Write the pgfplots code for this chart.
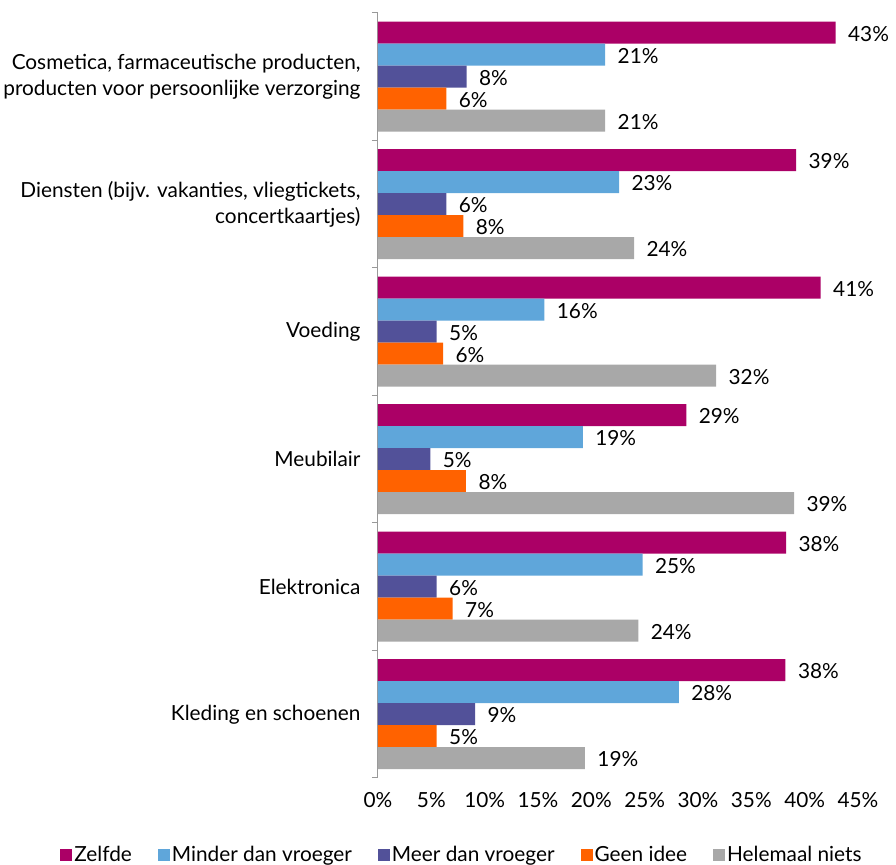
\documentclass[border=0pt]{standalone}
\usepackage{pgfplots}
\pgfplotsset{compat=1.18}
\usepackage{fontspec}
\setmainfont{Lato}
\definecolor{cZ}{HTML}{AB0066}
\definecolor{cM}{HTML}{5FA6DA}
\definecolor{cV}{HTML}{525199}
\definecolor{cG}{HTML}{FF6200}
\definecolor{cH}{HTML}{A8A8A8}
\pgfplotstableread{
x y lab
42.9 5 43\%
39.2 4 39\%
41.5 3 41\%
28.9 2 29\%
38.25 1 38\%
38.2 0 38\%
}\zelfde
\pgfplotstableread{
x y lab
21.3 5 21\%
22.6 4 23\%
15.6 3 16\%
19.2 2 19\%
24.8 1 25\%
28.2 0 28\%
}\minder
\pgfplotstableread{
x y lab
8.3 5 8\%
6.4 4 6\%
5.5 3 5\%
4.9 2 5\%
5.5 1 6\%
9.1 0 9\%
}\meer
\pgfplotstableread{
x y lab
6.4 5 6\%
8.0 4 8\%
6.1 3 6\%
8.25 2 8\%
7.0 1 7\%
5.5 0 5\%
}\geen
\pgfplotstableread{
x y lab
21.3 5 21\%
24.0 4 24\%
31.7 3 32\%
39.0 2 39\%
24.4 1 24\%
19.4 0 19\%
}\helemaal
\begin{document}
\begin{tikzpicture}[font=\fontsize{20.8}{26}\selectfont]
\begin{axis}[
  xbar, bar width=22pt,
  scale only axis, width=480pt, height=765pt,
  xmin=0, xmax=45, ymin=-0.5, ymax=5.5,
  axis y line*=left, axis x line*=bottom,
  x axis line style={draw=none},
  y axis line style={draw=black!40, line width=1pt},
  xtick={0,5,...,45},
  xticklabel={\pgfmathprintnumber[assume math mode=true]{\tick}\%},
  x tick style={draw=none},
  xticklabel style={yshift=-11pt},
  ytick={0,...,5},
  yticklabels={Kleding en schoenen, Elektronica, Meubilair, Voeding, {Diensten (bijv. vakanties, vliegtickets,\\concertkaartjes)}, {Cosmetica, farmaceutische producten,\\producten voor persoonlijke verzorging}},
  yticklabel style={align=right, xshift=-14pt},
  major tick length=0pt,
  minor ytick={-0.5,0.5,...,5.5},
  minor tick length=6pt,
  tick align=outside,
  y tick style={draw=black!40, line width=1pt},
  nodes near coords,
  point meta=explicit symbolic,
  every node near coord/.append style={anchor=west, xshift=9pt, yshift=-1pt, text=black, font=\fontsize{20.8}{24}\selectfont},
  legend columns=5,
  legend style={draw=none, at={(0.175,-0.1007)}, anchor=center, font=\fontsize{20.8}{24}\selectfont,
    /tikz/every even column/.append style={column sep=24pt}},
  legend image code/.code={\fill[#1] (0pt,-6pt) rectangle (12pt,6pt);},
]
\addplot[fill=cZ, draw=none, bar shift=44pt] table[x=x,y=y,meta=lab]{\zelfde};
\addplot[fill=cM, draw=none, bar shift=22pt] table[x=x,y=y,meta=lab]{\minder};
\addplot[fill=cV, draw=none, bar shift=0pt] table[x=x,y=y,meta=lab]{\meer};
\addplot[fill=cG, draw=none, bar shift=-22pt] table[x=x,y=y,meta=lab]{\geen};
\addplot[fill=cH, draw=none, bar shift=-44pt] table[x=x,y=y,meta=lab]{\helemaal};
\legend{Zelfde, Minder dan vroeger, Meer dan vroeger, Geen idee, Helemaal niets}
\end{axis}
\pgfresetboundingbox
\path[use as bounding box] ([xshift=-378pt,yshift=-87pt]current axis.south west) rectangle ([xshift=38pt,yshift=13pt]current axis.north east);
\end{tikzpicture}
\end{document}
